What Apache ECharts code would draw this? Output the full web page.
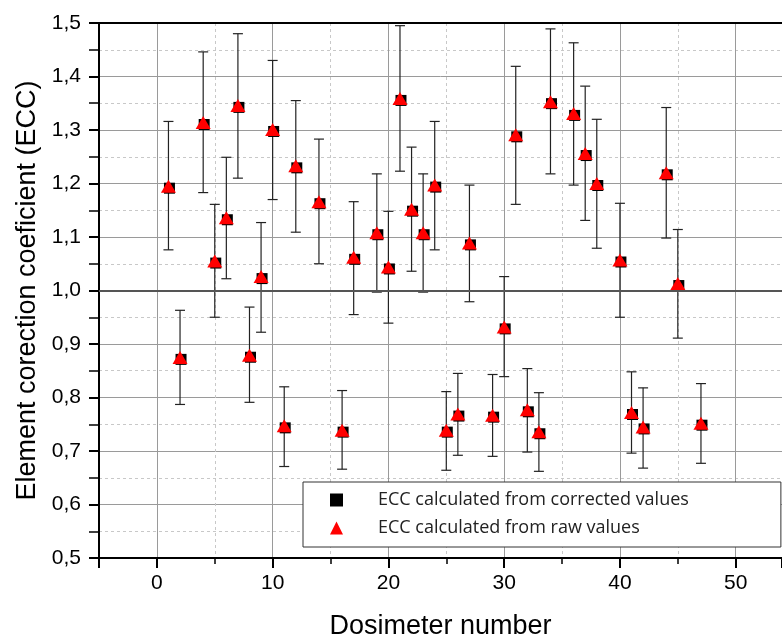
<!DOCTYPE html>
<html>
<head>
<meta charset="utf-8">
<script src="https://cdn.jsdelivr.net/npm/echarts@6/dist/echarts.min.js"></script>
<style>
  html, body { margin: 0; padding: 0; background: #fff; }
  #chart { width: 782px; height: 639px; }
</style>
</head>
<body>
<div id="chart"></div>
<script>
// dosimeter numbers and element correction coefficients
const dosimeters = [1, 2, 4, 5, 6, 7, 8, 9, 10, 11, 12, 14, 16, 17, 19, 20, 21, 22, 23, 24, 25, 26, 27, 29, 30, 31, 32, 33, 34, 36, 37, 38, 40, 41, 42, 44, 45, 47];
const eccCorrected = [1.195, 0.875, 1.314, 1.055, 1.136, 1.346, 0.879, 1.026, 1.301, 0.747, 1.233, 1.166, 0.739, 1.062, 1.108, 1.044, 1.359, 1.152, 1.108, 1.197, 0.739, 0.769, 1.089, 0.767, 0.932, 1.291, 0.777, 0.736, 1.353, 1.331, 1.256, 1.200, 1.057, 0.772, 0.745, 1.220, 1.013, 0.752];
const eccRaw = [1.195, 0.875, 1.314, 1.055, 1.136, 1.346, 0.879, 1.026, 1.301, 0.747, 1.233, 1.166, 0.739, 1.062, 1.108, 1.044, 1.359, 1.152, 1.108, 1.197, 0.739, 0.769, 1.089, 0.767, 0.932, 1.291, 0.777, 0.736, 1.353, 1.331, 1.256, 1.200, 1.057, 0.772, 0.745, 1.220, 1.013, 0.752];
// error bar ends
const errTop = [1.316, 0.963, 1.446, 1.161, 1.249, 1.480, 0.969, 1.127, 1.430, 0.820, 1.355, 1.283, 0.813, 1.166, 1.218, 1.148, 1.495, 1.268, 1.218, 1.316, 0.811, 0.845, 1.197, 0.843, 1.026, 1.419, 0.854, 0.809, 1.489, 1.463, 1.382, 1.320, 1.163, 0.848, 0.818, 1.342, 1.114, 0.826];
const errBottom = [1.076, 0.787, 1.183, 0.950, 1.022, 1.210, 0.791, 0.922, 1.170, 0.671, 1.109, 1.050, 0.666, 0.955, 0.997, 0.939, 1.223, 1.036, 0.997, 1.076, 0.664, 0.692, 0.979, 0.690, 0.839, 1.161, 0.698, 0.662, 1.218, 1.197, 1.131, 1.079, 0.950, 0.696, 0.668, 1.098, 0.911, 0.677];

const xMin = -5, xMax = 54;
const yMin = 0.5, yMax = 1.5;

const chart = echarts.init(document.getElementById('chart'), null, { renderer: 'canvas' });

const errData = dosimeters.map((d, i) => [d, errTop[i], errBottom[i]]);

function renderErr(params, api) {
  const x = api.value(0);
  const top = api.coord([x, api.value(1)]);
  const bot = api.coord([x, api.value(2)]);
  const w = 5;
  const st = { stroke: '#222', lineWidth: 1.2 };
  return {
    type: 'group',
    children: [
      { type: 'line', shape: { x1: top[0], y1: top[1], x2: bot[0], y2: bot[1] }, style: st },
      { type: 'line', shape: { x1: top[0] - w, y1: top[1], x2: top[0] + w, y2: top[1] }, style: st },
      { type: 'line', shape: { x1: bot[0] - w, y1: bot[1], x2: bot[0] + w, y2: bot[1] }, style: st }
    ]
  };
}

const labelFont = { fontFamily: 'Liberation Sans', fontSize: 21, color: '#000' };

const option = {
  animation: false,
  backgroundColor: '#fff',
  grid: { left: 99, right: 0, top: 23, bottom: 81, containLabel: false, outerBoundsMode: 'none' },
  legend: {
    orient: 'vertical',
    left: 303,
    top: 482,
    padding: [5, 92, 6, 27],
    itemGap: 2,
    itemWidth: 13,
    itemHeight: 13,
    backgroundColor: '#fff',
    borderColor: '#333',
    borderWidth: 1,
    borderRadius: 0,
    textStyle: { fontFamily: 'Open Sans', fontSize: 18, color: '#222', padding: [12, 0, 0, 30], lineHeight: 14 },
    data: [
      { name: 'ECC calculated from corrected values', icon: 'rect' },
      { name: 'ECC calculated from raw values', icon: 'triangle' }
    ]
  },
  xAxis: [{
    type: 'value',
    min: xMin,
    max: xMax,
    splitNumber: 5,
    name: 'Dosimeter number',
    nameLocation: 'middle',
    nameGap: 55,
    nameTextStyle: { fontFamily: 'Liberation Sans', fontSize: 27, color: '#000' },
    axisLine: { show: true, onZero: false, lineStyle: { color: '#000', width: 2 } },
    axisTick: { show: true, inside: false, length: 10, lineStyle: { color: '#000', width: 2 } },
    minorTick: { show: true, splitNumber: 2, length: 6, lineStyle: { color: '#000', width: 1.5 } },
    axisLabel: { ...labelFont, margin: 15, showMinLabel: false, showMaxLabel: false },
    splitLine: { show: true, lineStyle: { color: '#9a9a9a', width: 1 } },
    minorSplitLine: { show: true, lineStyle: { color: '#c8c8c8', width: 1, type: [3, 3] } }
  }, {
    type: 'value',
    position: 'top',
    min: xMin,
    max: xMax,
    axisLine: { show: true, onZero: false, lineStyle: { color: '#000', width: 2 } },
    axisTick: { show: false },
    axisLabel: { show: false },
    splitLine: { show: false }
  }],
  yAxis: {
    type: 'value',
    min: yMin,
    max: yMax,
    interval: 0.1,
    name: 'Element corection coeficient (ECC)',
    nameLocation: 'middle',
    nameGap: 58,
    nameTextStyle: { fontFamily: 'Liberation Sans', fontSize: 27, color: '#000' },
    axisLine: { show: true, onZero: false, lineStyle: { color: '#000', width: 2 } },
    axisTick: { show: true, length: 10, lineStyle: { color: '#000', width: 2 } },
    minorTick: { show: true, splitNumber: 2, length: 10, lineStyle: { color: '#000', width: 1.5 } },
    axisLabel: { ...labelFont, margin: 18, formatter: v => v.toFixed(1).replace('.', ',') },
    splitLine: { show: true, lineStyle: { color: '#9a9a9a', width: 1 } },
    minorSplitLine: { show: true, lineStyle: { color: '#c8c8c8', width: 1, type: [3, 3] } }
  },
  series: [
    {
      type: 'custom',
      name: 'errors',
      renderItem: renderErr,
      encode: { x: 0, y: [1, 2] },
      data: errData,
      z: 2,
      silent: true,
      markLine: {
        silent: true,
        symbol: 'none',
        label: { show: false },
        lineStyle: { color: '#555', width: 2, type: 'solid' },
        data: [{ yAxis: 1.0 }]
      }
    },
    {
      type: 'scatter',
      name: 'ECC calculated from corrected values',
      symbol: 'rect',
      symbolSize: 11,
      symbolOffset: [1, 2],
      itemStyle: { color: '#000', opacity: 1 },
      data: dosimeters.map((d, i) => [d, eccCorrected[i]]),
      z: 3
    },
    {
      type: 'scatter',
      name: 'ECC calculated from raw values',
      symbol: 'triangle',
      symbolSize: [15, 13],
      itemStyle: { color: '#ff0000', opacity: 1 },
      data: dosimeters.map((d, i) => [d, eccRaw[i]]),
      z: 4
    }
  ]
};

chart.setOption(option);
</script>
</body>
</html>
